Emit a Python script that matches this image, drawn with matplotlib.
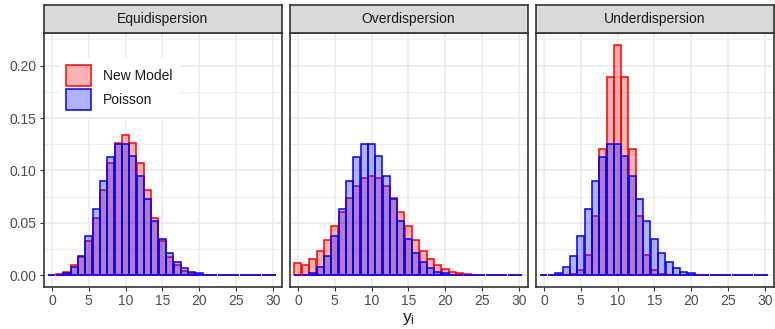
import matplotlib
matplotlib.use("Agg")
import matplotlib.pyplot as plt
import numpy as np

plt.rcParams['font.family'] = ['Liberation Sans', 'DejaVu Sans']
plt.rcParams['mathtext.default'] = 'regular'

# ---- data -----------------------------------------------------------------
y_values = list(range(0, 31))
panel_titles = ["Equidispersion", "Overdispersion", "Underdispersion"]

poisson = [0.00005, 0.00045, 0.0023, 0.0076, 0.0189, 0.0378, 0.0631, 0.0901,
           0.1126, 0.1251, 0.1251, 0.1137, 0.0948, 0.0729, 0.0521, 0.0347,
           0.0217, 0.0128, 0.0071, 0.0037, 0.0019, 0.0009, 0.0004, 0.0002,
           0.0001, 0.0, 0.0, 0.0, 0.0, 0.0, 0.0]

new_equi = [0.0005, 0.0013, 0.0036, 0.0095, 0.0180, 0.0330, 0.0550, 0.0810,
            0.1075, 0.1262, 0.1337, 0.1262, 0.1075, 0.0810, 0.0550, 0.0330,
            0.0180, 0.0095, 0.0047, 0.0020, 0.0008, 0.0003, 0.0001, 0.0,
            0.0, 0.0, 0.0, 0.0, 0.0, 0.0, 0.0]

new_over = [0.0118, 0.0095, 0.0158, 0.0237, 0.0340, 0.0470, 0.0607, 0.0735,
            0.0853, 0.0925, 0.0948, 0.0925, 0.0853, 0.0735, 0.0607, 0.0470,
            0.0340, 0.0237, 0.0158, 0.0100, 0.0060, 0.0036, 0.0020, 0.0010,
            0.0005, 0.0002, 0.0001, 0.0, 0.0, 0.0, 0.0]

new_under = [0.0, 0.0, 0.0, 0.0001, 0.0010, 0.0054, 0.0196, 0.0569,
             0.1207, 0.1890, 0.2200, 0.1890, 0.1207, 0.0569, 0.0196, 0.0054,
             0.0010, 0.0001, 0.0, 0.0, 0.0, 0.0, 0.0, 0.0,
             0.0, 0.0, 0.0, 0.0, 0.0, 0.0, 0.0]

new_model = [new_equi, new_over, new_under]
series_labels = ["New Model", "Poisson"]

x_ticks = [0, 5, 10, 15, 20, 25, 30]
y_ticks = [0.00, 0.05, 0.10, 0.15, 0.20]
y_minor = [0.025, 0.075, 0.125, 0.175, 0.225]

# ---- figure ---------------------------------------------------------------
W, H = 775, 329
fig = plt.figure(figsize=(W / 100, H / 100), dpi=100)

panel_lefts = [43.5, 289.5, 535.5]
panel_w = 238.0
panel_top = 33.0
panel_bottom = 287.0
strip_top = 5.0

border_col = "#333333"
grid_col = "#ebebeb"
text_col = "#4d4d4d"

red_fill = (1, 0, 0, 0.3)
blue_fill = (0, 0, 1, 0.3)

for i, (title, nm) in enumerate(zip(panel_titles, new_model)):
    left = panel_lefts[i]
    ax = fig.add_axes([left / W, 1 - panel_bottom / H, panel_w / W,
                       (panel_bottom - panel_top) / H])
    ax.set_xlim(-1.15, 31.2)
    ax.set_ylim(-0.011, 0.231)

    # grid
    for yv in y_minor:
        ax.axhline(yv, color=grid_col, lw=0.6, zorder=0)
    for yv in y_ticks:
        ax.axhline(yv, color=grid_col, lw=1.1, zorder=0)
    for xv in x_ticks:
        ax.axvline(xv, color=grid_col, lw=1.1, zorder=0)

    b1 = ax.bar(y_values, nm, width=0.95, color=red_fill, edgecolor="#ff0000",
                linewidth=1.1, zorder=2, label=series_labels[0])
    b2 = ax.bar(y_values, poisson, width=0.95, color=blue_fill, edgecolor="#0000ff",
                linewidth=1.1, zorder=3, label=series_labels[1])

    for s in ax.spines.values():
        s.set_color(border_col)
        s.set_linewidth(1.2)

    ax.set_xticks(x_ticks)
    ax.set_xticklabels([str(v) for v in x_ticks])
    ax.tick_params(axis='both', colors=border_col, length=3, width=0.8,
                   labelsize=10, labelcolor=text_col, pad=2)
    ax.set_yticks(y_ticks)
    if i == 0:
        ax.set_yticklabels([f"{v:.2f}" for v in y_ticks])
    else:
        ax.tick_params(axis='y', length=0, labelleft=False)

    # strip
    sax = fig.add_axes([left / W, 1 - panel_top / H, panel_w / W,
                        (panel_top - strip_top) / H])
    sax.set_facecolor("#d9d9d9")
    sax.set_xticks([])
    sax.set_yticks([])
    for s in sax.spines.values():
        s.set_color(border_col)
        s.set_linewidth(1.2)
    sax.text(0.5, 0.5, title, ha="center", va="center", fontsize=10,
             color="#1a1a1a", transform=sax.transAxes)

    if i == 0:
        leg = ax.legend(handles=[b1, b2], loc="upper left",
                        bbox_to_anchor=(0.035, 0.93), frameon=True,
                        fancybox=False, framealpha=1.0, edgecolor="white",
                        fontsize=10, handlelength=1.85, handleheight=2.0,
                        handletextpad=0.8, labelspacing=0.2, borderpad=0.5)
        leg.get_frame().set_linewidth(0)
        for t in leg.get_texts():
            t.set_color("#1a1a1a")

fig.text((43.5 + 773.5) / 2 / W, 1 - 322 / H, "y$_{i}$", ha="center",
         va="baseline", fontsize=12.5, color="#1a1a1a")

fig.savefig("out.png", dpi=100)
